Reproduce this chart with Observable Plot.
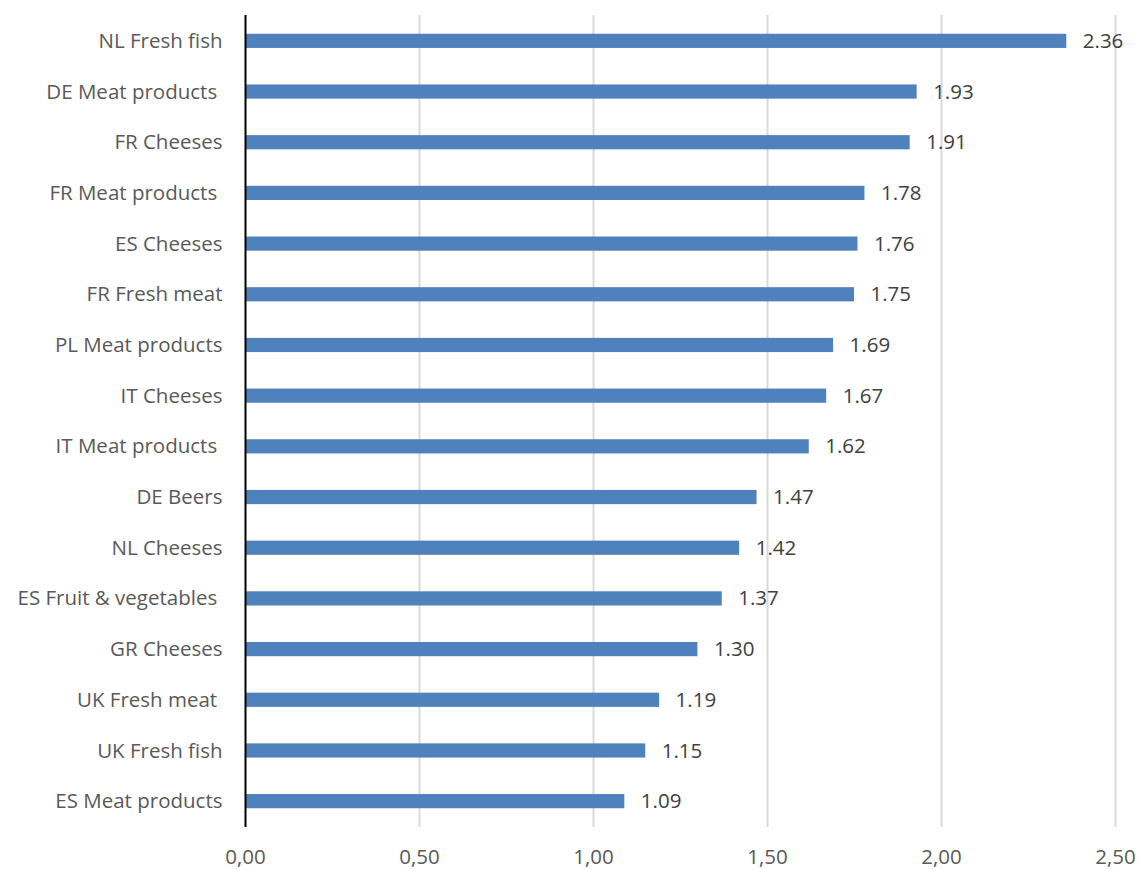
<!DOCTYPE html>
<html>
<head>
<meta charset="utf-8">
<script src="https://cdn.jsdelivr.net/npm/d3@7"></script>
<script src="https://cdn.jsdelivr.net/npm/@observablehq/plot@0.6"></script>
<style>
  html, body { margin: 0; padding: 0; background: #fff; }
  #chart { width: 1140px; height: 869px; }
</style>
</head>
<body>
<div id="chart"></div>
<script>
const categories = [
  "NL Fresh fish",
  "DE Meat products ",
  "FR Cheeses",
  "FR Meat products ",
  "ES Cheeses",
  "FR Fresh meat",
  "PL Meat products",
  "IT Cheeses",
  "IT Meat products ",
  "DE Beers",
  "NL Cheeses",
  "ES Fruit & vegetables ",
  "GR Cheeses",
  "UK Fresh meat ",
  "UK Fresh fish",
  "ES Meat products"
];
const values = [2.36, 1.93, 1.91, 1.78, 1.76, 1.75, 1.69, 1.67, 1.62, 1.47, 1.42, 1.37, 1.30, 1.19, 1.15, 1.09];
const xTicks = [0, 0.5, 1, 1.5, 2, 2.5];

const data = categories.map((c, i) => ({category: c, value: values[i]}));
const fmtComma = d => d.toFixed(2).replace(".", ",");
const fmtLabel = s => s.replace(/ $/, "\u00a0");

const chart = Plot.plot({
  width: 1140,
  height: 869,
  marginLeft: 245,
  marginRight: 25,
  marginTop: 15,
  marginBottom: 42,
  style: {fontFamily: "'Open Sans', sans-serif", fontSize: "20.5px", background: "#fff"},
  x: {domain: [0, 2.5], axis: null, label: null},
  y: {domain: categories, paddingInner: 0.72, paddingOuter: 0.37, round: false, axis: null, label: null},
  marks: [
    Plot.gridX(xTicks.slice(1), {stroke: "#d9d9d9", strokeWidth: 2, strokeOpacity: 1}),
    Plot.barX(data, {x: "value", y: "category", fill: "#4f81bd"}),
    Plot.ruleX([0], {stroke: "#000", strokeWidth: 2}),
    Plot.text(data, {x: "value", y: "category", text: d => d.value.toFixed(2), textAnchor: "start", dx: 16, fill: "#404040", fontSize: 20.5}),
    Plot.axisY({tickSize: 0, tickPadding: 23, tickFormat: fmtLabel, fill: "#595959", fontSize: 20.5, label: null}),
    Plot.axisX(xTicks, {tickSize: 0, tickPadding: 22, tickFormat: fmtComma, fill: "#595959", fontSize: 20.5, label: null})
  ]
});
document.getElementById("chart").appendChild(chart);
</script>
</body>
</html>
